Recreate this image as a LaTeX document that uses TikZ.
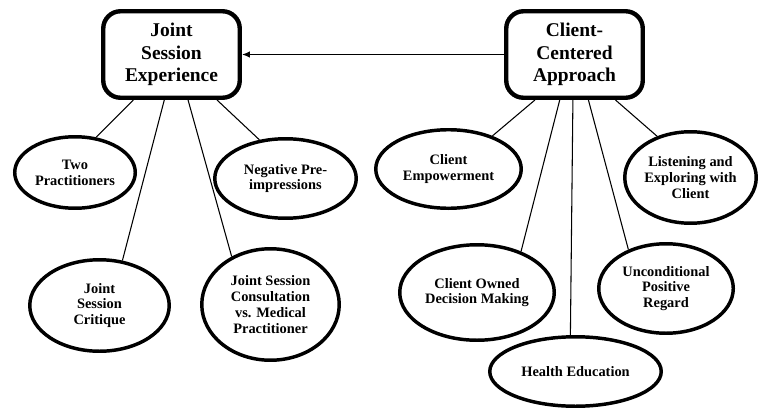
\documentclass[tikz,border=0pt]{standalone}
\usepackage{fontspec}
\setmainfont{Liberation Serif}
\usetikzlibrary{shapes.geometric,arrows.meta}

\begin{document}
\begin{tikzpicture}[x=0.75pt, y=-0.75pt,
    theme/.style={draw, line width=3.3pt, rounded corners=13pt, align=center,
      minimum width=102.4pt, minimum height=64.9pt,
      font=\fontsize{14.6}{16.9}\selectfont\bfseries},
    sub/.style={draw, ellipse, line width=2.6pt, inner sep=0pt, align=center,
      font=\fontsize{10.8}{11.8}\selectfont\bfseries},
    link/.style={line width=0.8pt}]
    \useasboundingbox (0,0) rectangle (759,410);

    \node[theme] (JSE) at (171.5,54.5) {Joint\\Session\\Experience};
    \node[theme] (CCA) at (574.5,54.5) {Client-\\Centered\\Approach};

    \node[sub, minimum width=90.4pt, minimum height=53.6pt] (TP) at (75,172.5) {Two\\Practitioners};
    \node[sub, minimum width=106.1pt, minimum height=59.6pt] (NP) at (285.5,178.5) {Negative Pre-\\impressions};
    \node[sub, minimum width=104.6pt, minimum height=68.6pt] (JSC) at (99.5,305.5) {Joint\\Session\\Critique};
    \node[sub, minimum width=103.1pt, minimum height=83.6pt] (CMP) at (270.5,304.5) {Joint Session\\Consultation\\vs. Medical\\Practitioner};

    \node[sub, minimum width=109.1pt, minimum height=58.9pt] (CE) at (448.5,169) {Client\\Empowerment};
    \node[sub, minimum width=98.6pt, minimum height=68.6pt] (LEC) at (690.5,177.5) {Listening and\\Exploring with\\Client};
    \node[sub, minimum width=115.9pt, minimum height=71.6pt] (COD) at (477,292.5) {Client Owned\\Decision Making};
    \node[sub, minimum width=100.9pt, minimum height=67.1pt] (UPR) at (666,288.5) {Unconditional\\Positive\\Regard};
    \node[sub, minimum width=128.6pt, minimum height=52.1pt] (HE) at (575.5,371.5) {Health Education};

    \draw[line width=1pt, -{Latex[length=6pt,width=5pt]}] (CCA.west) -- (JSE.east);

    \draw[link] (JSE.230) -- (TP.59);
    \draw[link] (JSE.261) -- (JSC.63);
    \draw[link] (JSE.290) -- (CMP.129);
    \draw[link] (JSE.315) -- (NP.124);

    \draw[link] (CCA.229) -- (CE.37);
    \draw[link] (CCA.252) -- (COD.43);
    \draw[link] (CCA.268) -- (HE.98);
    \draw[link] (CCA.287) -- (UPR.134);
    \draw[link] (CCA.312) -- (LEC.129);
  \end{tikzpicture}
\end{document}
